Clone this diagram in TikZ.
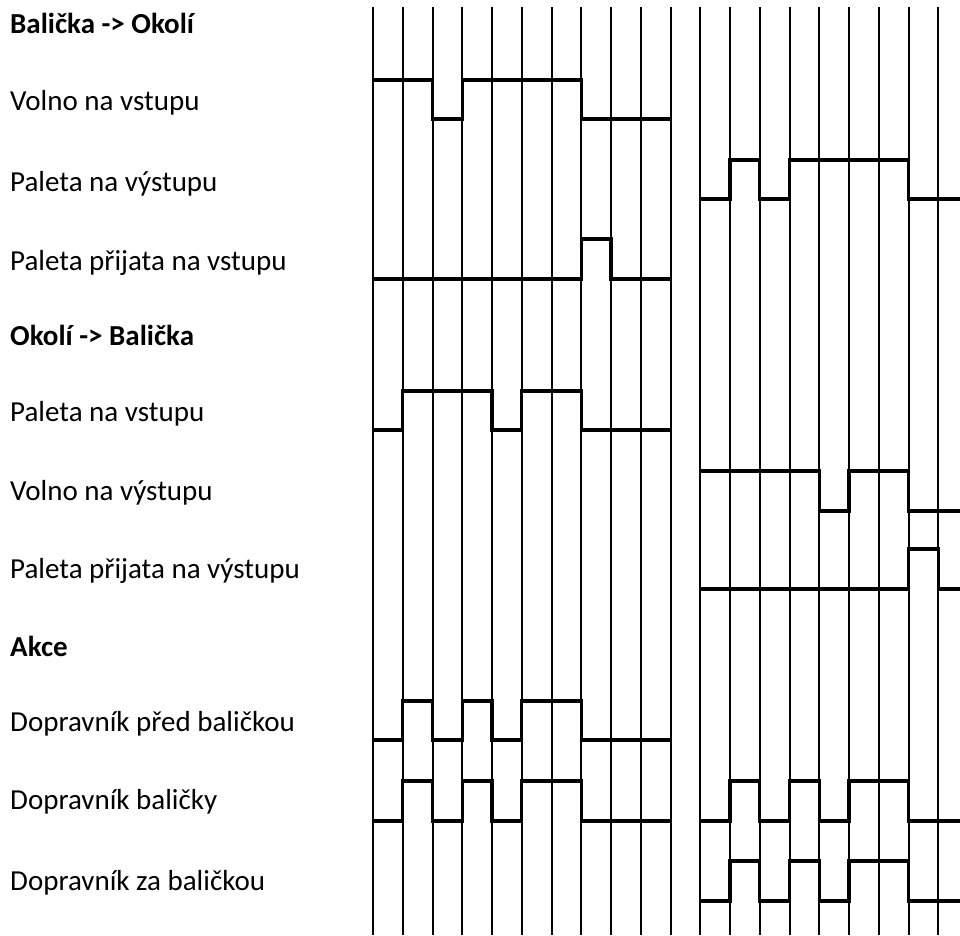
\documentclass[tikz,border=0pt]{standalone}
\usepackage{fontspec}
\setmainfont{Carlito}

\begin{document}
\begin{tikzpicture}[
  x=1pt, y=-1pt,
  lbl/.style={anchor=base west, inner sep=0pt, font=\fontsize{29}{34}\selectfont},
  lblhead/.style={lbl, font=\fontsize{29}{34}\selectfont\bfseries},
  tick/.style={line width=2pt},
  sig/.style={line width=3.2pt}
]
  \useasboundingbox (0,0) rectangle (960,935);

  % Labels
  \node[lblhead] (hbo)  at (10,33)  {Balička -> Okolí};
  \node[lbl]     (vvs)  at (10,110) {Volno na vstupu};
  \node[lbl]     (pvy)  at (10,191) {Paleta na výstupu};
  \node[lbl]     (ppvs) at (10,270) {Paleta přijata na vstupu};
  \node[lblhead] (hob)  at (10,345) {Okolí -> Balička};
  \node[lbl]     (pvs)  at (10,421) {Paleta na vstupu};
  \node[lbl]     (vvy)  at (10,500) {Volno na výstupu};
  \node[lbl]     (ppvy) at (10,578) {Paleta přijata na výstupu};
  \node[lblhead] (hak)  at (10,656) {Akce};
  \node[lbl]     (dpb)  at (10,731) {Dopravník před baličkou};
  \node[lbl]     (db)   at (10,809) {Dopravník baličky};
  \node[lbl]     (dzb)  at (10,890) {Dopravník za baličkou};

  \begin{scope}[xshift=373pt, x=29.75pt]
    % time grid
    \foreach \i in {0,...,19}
      \draw[tick] (\i,7) -- (\i,935);

    % Balicka -> Okoli
    \draw[sig] (0,80) -- (2,80) -- (2,119) -- (3,119) -- (3,80) -- (7,80) -- (7,119) -- (10,119);
    \draw[sig] (11,199) -- (12,199) -- (12,160) -- (13,160) -- (13,199) -- (14,199)
      -- (14,160) -- (18,160) -- (18,199) -- (19.8,199);
    \draw[sig] (0,279) -- (7,279) -- (7,239) -- (8,239) -- (8,279) -- (10,279);

    % Okoli -> Balicka
    \draw[sig] (0,430) -- (1,430) -- (1,391) -- (4,391) -- (4,430) -- (5,430)
      -- (5,391) -- (7,391) -- (7,430) -- (10,430);
    \draw[sig] (11,471) -- (15,471) -- (15,511) -- (16,511) -- (16,471) -- (18,471)
      -- (18,511) -- (19.8,511);
    \draw[sig] (11,589) -- (18,589) -- (18,549) -- (19,549) -- (19,589) -- (19.8,589);

    % Akce
    \draw[sig] (0,740) -- (1,740) -- (1,701) -- (2,701) -- (2,740) -- (3,740) -- (3,701)
      -- (4,701) -- (4,740) -- (5,740) -- (5,701) -- (7,701) -- (7,740) -- (10,740);
    \draw[sig] (0,821) -- (1,821) -- (1,781) -- (2,781) -- (2,821) -- (3,821) -- (3,781)
      -- (4,781) -- (4,821) -- (5,821) -- (5,781) -- (7,781) -- (7,821) -- (10,821);
    \draw[sig] (11,821) -- (12,821) -- (12,781) -- (13,781) -- (13,821) -- (14,821) -- (14,781)
      -- (15,781) -- (15,821) -- (16,821) -- (16,781) -- (18,781) -- (18,821) -- (19.8,821);
    \draw[sig] (11,901) -- (12,901) -- (12,861) -- (13,861) -- (13,901) -- (14,901) -- (14,861)
      -- (15,861) -- (15,901) -- (16,901) -- (16,861) -- (18,861) -- (18,901) -- (19.8,901);
  \end{scope}
\end{tikzpicture}
\end{document}
